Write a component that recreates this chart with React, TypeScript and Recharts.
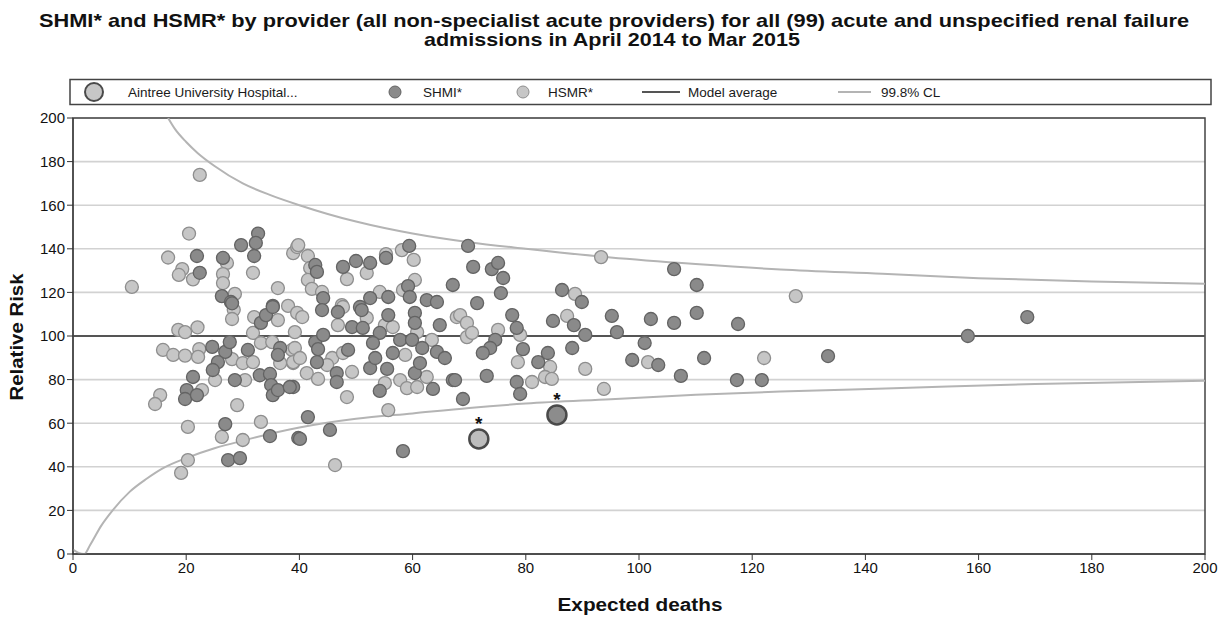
import React from 'react'
import {
  ComposedChart, Scatter, Line, XAxis, YAxis, CartesianGrid,
  ReferenceLine, ReferenceArea,
} from 'recharts'

// [expected deaths, relative risk]
const shmi: [number, number][] = [
  [21.9, 136.7], [22.4, 129], [26.5, 135.8], [26.3, 118.3], [27.9, 115.6], [29.7, 141.7],
  [32.7, 147], [32.3, 142.7], [32, 136.7], [35.3, 113.8], [28.1, 115], [24.6, 95],
  [26.9, 92.7], [27.7, 97.2], [25.6, 88], [24.7, 84.4], [28.6, 79.8], [30.9, 93.6],
  [33, 82], [34.8, 82.6], [35, 77.5], [35.3, 72.9], [36.2, 75.2], [38.9, 76.6],
  [36.6, 94.5], [36.2, 91.3], [33.2, 106], [34.1, 109.6], [35.3, 113.3], [21.2, 81.2],
  [20.1, 75.2], [19.8, 71.1], [21.9, 72.9], [26.9, 59.6], [34.8, 54.1], [39.8, 53.2],
  [27.4, 43.1], [29.5, 44], [42.8, 132.6], [43.1, 129.4], [44.2, 117.4], [47.7, 131.7],
  [50, 134.4], [52.5, 133.5], [55.3, 135.8], [59.4, 141.3], [59.2, 122.9], [59.5, 117.9],
  [67.1, 123.4], [52.5, 117.4], [55.7, 117.9], [62.5, 116.5], [64.3, 115.6], [50.7, 113.3],
  [44, 111.9], [46.8, 111], [49.3, 104.1], [51, 111.9], [51.2, 103.7], [55.7, 109.6],
  [54.2, 101.4], [53, 96.8], [57.8, 98.2], [60.4, 110.6], [60.4, 106], [59.9, 98.2],
  [61.7, 94.5], [64.8, 105], [64.3, 92.7], [65.7, 89.9], [67.1, 79.8], [42.8, 97.2],
  [43.3, 94], [44.2, 100.5], [43.1, 88], [48.6, 93.6], [46.6, 83], [46.6, 78.9],
  [52.5, 85.3], [53.4, 89.9], [55.5, 84.9], [56.5, 92.2], [54.2, 74.8], [60.4, 83],
  [61.3, 87.6], [63.6, 75.7], [38.3, 76.6], [41.5, 62.8], [45.4, 56.9], [40.1, 52.8],
  [58.3, 47.2], [69.8, 141.3], [70.7, 131.7], [74, 130.7], [75.1, 133.5], [76, 126.6],
  [75.6, 119.7], [71.4, 115.1], [86.4, 121.1], [89.9, 115.6], [74.6, 98.2], [73.7, 94.5],
  [72.4, 92.2], [77.6, 109.6], [78.4, 103.7], [79.5, 94], [82.2, 88], [83.9, 92.2],
  [84.8, 106.9], [88.5, 105], [90.5, 100.5], [88.2, 94.5], [78.4, 78.9], [79, 73.4],
  [73.1, 81.7], [67.5, 79.8], [68.9, 71.1], [95.2, 109.2], [96.1, 101.8], [106.2, 130.7],
  [110.2, 123.4], [102.1, 107.8], [106.2, 106], [110.2, 110.6], [117.5, 105.5], [101, 96.8],
  [98.8, 89], [103.4, 86.7], [111.5, 89.9], [133.4, 90.8], [107.4, 81.7], [117.3, 79.8],
  [121.7, 79.8], [158.1, 100], [168.6, 108.7],
]

const hsmr: [number, number][] = [
  [22.4, 173.9], [20.5, 147], [16.8, 136], [19.3, 130.7], [18.7, 128], [21.2, 126],
  [10.4, 122.5], [27.2, 133.5], [26.5, 128.4], [26.5, 124.3], [28.6, 119.3], [31.8, 129],
  [36.2, 122], [38.9, 138], [39.6, 140.8], [38, 113.8], [28.4, 112], [28.1, 107.8],
  [18.6, 102.8], [19.8, 101.8], [22, 104], [15.9, 93.6], [17.7, 91.3], [19.8, 91],
  [22.3, 94], [22.1, 90.4], [28.1, 89.4], [25.1, 79.8], [30.4, 79.8], [30, 87.6],
  [31.8, 88], [31.8, 101.4], [33.2, 96.8], [36.6, 87.6], [38.9, 87.6], [35.2, 97.2],
  [38.7, 93.6], [39.2, 101.8], [32, 108.7], [36.2, 107.3], [22.8, 75.2], [15.4, 72.9],
  [14.5, 68.8], [29, 68.3], [20.3, 58.3], [26.3, 53.7], [30, 52.3], [33.2, 60.6],
  [20.3, 43.1], [19.1, 37.2], [39.8, 141.7], [41.5, 136.7], [41.9, 131.2], [41.5, 125.7],
  [42.2, 121.6], [44, 120.2], [48.4, 126.1], [51.9, 128.9], [55.3, 137.6], [58.1, 139.4],
  [60.2, 134.9], [60.4, 125.7], [58.3, 121.1], [54.2, 120.2], [47.5, 114.2], [39.6, 110.6],
  [40.5, 108.7], [47.7, 113.3], [46.8, 105], [51.9, 108.3], [55.1, 105], [56.5, 104.1],
  [60.8, 101.8], [63.4, 98.2], [67.8, 108.7], [39.2, 94.5], [38.9, 88], [40.1, 89.9],
  [45.8, 89.9], [47.7, 92.2], [44.9, 86.7], [41.3, 83], [43.3, 80.3], [49.3, 83.5],
  [58.7, 91.3], [55.1, 78.4], [57.8, 79.8], [59, 76.1], [60.8, 76.6], [62.5, 81.2],
  [48.4, 72], [55.7, 66], [46.3, 40.8], [93.3, 136.2], [88.7, 119.3], [68.4, 109.6],
  [69.6, 106], [69.6, 99.5], [70.5, 101.4], [75.1, 102.8], [79, 100.5], [78.6, 88],
  [84.3, 85.8], [83.4, 81.2], [84.6, 80.3], [81.1, 78.9], [87.3, 109.2], [90.5, 84.9],
  [93.8, 75.7], [127.7, 118.3], [101.6, 88], [122.1, 89.9],
]

// Aintree University Hospital (flagged with *)
const aintreeHsmr: [number, number][] = [[71.7, 52.8]]
const aintreeShmi: [number, number][] = [[85.5, 63.8]]

// 99.8% control limits
const upperCL: [number, number][] = [
  [16.8, 200], [18, 195], [20, 189], [22, 184], [25, 178], [30, 170], [35, 164.5],
  [40, 160], [45, 156], [50, 152.5], [60, 147], [70, 143], [80, 140], [95, 136],
  [110, 133], [125, 130.5], [143, 128.5], [160, 126.5], [180, 125], [200, 124],
]
const lowerCL: [number, number][] = [
  [0, 2], [1, 0.5], [2, 0], [3, 4], [5, 13], [7, 20], [10, 28.5], [13, 34.5], [16, 39.5],
  [20, 44], [25, 48.5], [30, 52], [40, 58], [50, 62], [60, 64.5], [70, 67], [80, 69],
  [95, 71], [110, 73], [125, 74.5], [145, 76], [170, 78], [200, 79.5],
]

const ticks = [0, 20, 40, 60, 80, 100, 120, 140, 160, 180, 200]

const toRows = (pts: [number, number][]) => pts.map(([x, y]) => ({ x, y }))

const DARK = '#8a8a8a'
const DARK_EDGE = '#636363'
const LIGHT = '#c6c6c6'
const LIGHT_EDGE = '#8e8e8e'
const FONT = '"Liberation Sans", Arial, sans-serif'
const NARROW = '"Liberation Sans Narrow", "Liberation Sans", Arial, sans-serif'

const dot = (fill: string, stroke: string) => (p: any) => (
  <circle cx={p.cx} cy={p.cy} r={6.5} fill={fill} stroke={stroke} strokeWidth={1.3} />
)

const flagged = (fill: string) => (p: any) => (
  <g>
    <text x={p.cx} y={p.cy - 9} textAnchor="middle" fontSize={19} fontWeight="bold" fontFamily={FONT} fill="#111">*</text>
    <circle cx={p.cx} cy={p.cy} r={9.5} fill={fill} stroke="#4a4a4a" strokeWidth={2.5} />
  </g>
)

function Overlay() {
  return (
    <svg width={1228} height={619} style={{ position: 'absolute', left: 0, top: 0, pointerEvents: 'none' }}>
      <g fontFamily={NARROW} fontWeight="bold" fill="#111" style={{ whiteSpace: 'pre' }}>
        <text x={614} y={27} fontSize={19} textAnchor="middle" textLength={1150} lengthAdjust="spacingAndGlyphs">
          {'SHMI* and HSMR* by provider  (all non-specialist acute providers) for all  (99) acute and unspecified renal failure'}
        </text>
        <text x={612} y={46} fontSize={19} textAnchor="middle" textLength={376} lengthAdjust="spacingAndGlyphs">
          admissions in April 2014 to Mar 2015
        </text>
      </g>
      <g fontFamily={FONT} fontWeight="bold" fill="#111">
        <text x={640} y={611} fontSize={18} textAnchor="middle" textLength={165} lengthAdjust="spacingAndGlyphs">Expected deaths</text>
        <text x={0} y={0} fontSize={18} textAnchor="middle" textLength={127} lengthAdjust="spacingAndGlyphs"
          transform="translate(23 337) rotate(-90)">Relative Risk</text>
      </g>
      <rect x={70} y={79.5} width={1141} height={25} fill="none" stroke="#444" strokeWidth={1.5} />
      <g fontFamily={FONT} fontSize={13.5} fill="#1a1a1a">
        <circle cx={94} cy={92} r={9} fill={LIGHT} stroke="#4a4a4a" strokeWidth={2} />
        <text x={128} y={96.5}>Aintree University Hospital...</text>
        <circle cx={395} cy={92} r={6} fill={DARK} stroke={DARK_EDGE} />
        <text x={423} y={96.5}>SHMI*</text>
        <circle cx={523} cy={92} r={6} fill={LIGHT} stroke={LIGHT_EDGE} />
        <text x={548} y={96.5}>HSMR*</text>
        <line x1={642} x2={680} y1={92} y2={92} stroke="#555" strokeWidth={2} />
        <text x={688} y={96.5}>Model average</text>
        <line x1={838} x2={871} y1={92} y2={92} stroke="#b4b4b4" strokeWidth={2} />
        <text x={881} y={96.5}>99.8% CL</text>
      </g>
    </svg>
  )
}

export default function App() {
  const tick = { fontSize: 15, fill: '#111', fontFamily: FONT }
  return (
    <div style={{ position: 'absolute', left: 0, top: 0, width: 1228, height: 619, background: '#fff' }}>
      <ComposedChart width={1228} height={619} margin={{ top: 118, right: 23, bottom: 35, left: 13 }}>
        <CartesianGrid vertical={false} stroke="#d2d2d2" strokeWidth={1.6} />
        <XAxis type="number" dataKey="x" domain={[0, 200]} ticks={ticks} height={30}
          tick={tick} tickSize={6} stroke="#333" allowDataOverflow />
        <YAxis type="number" dataKey="y" domain={[0, 200]} ticks={ticks} width={60}
          tick={tick} tickSize={6} stroke="#333" allowDataOverflow />
        <ReferenceArea x1={0} x2={200} y1={0} y2={200} fill="none" stroke="#444" strokeWidth={1.5} />
        <ReferenceLine y={100} stroke="#555" strokeWidth={2} />
        <Line data={toRows(upperCL)} dataKey="y" type="monotone" stroke="#b4b4b4" strokeWidth={2}
          dot={false} isAnimationActive={false} />
        <Line data={toRows(lowerCL)} dataKey="y" type="monotone" stroke="#b4b4b4" strokeWidth={2}
          dot={false} isAnimationActive={false} />
        <Scatter data={toRows(hsmr)} shape={dot(LIGHT, LIGHT_EDGE)} isAnimationActive={false} />
        <Scatter data={toRows(shmi)} shape={dot(DARK, DARK_EDGE)} isAnimationActive={false} />
        <Scatter data={toRows(aintreeHsmr)} shape={flagged('#bdbdbd')} isAnimationActive={false} />
        <Scatter data={toRows(aintreeShmi)} shape={flagged('#8c8c8c')} isAnimationActive={false} />
      </ComposedChart>
      <Overlay />
    </div>
  )
}
